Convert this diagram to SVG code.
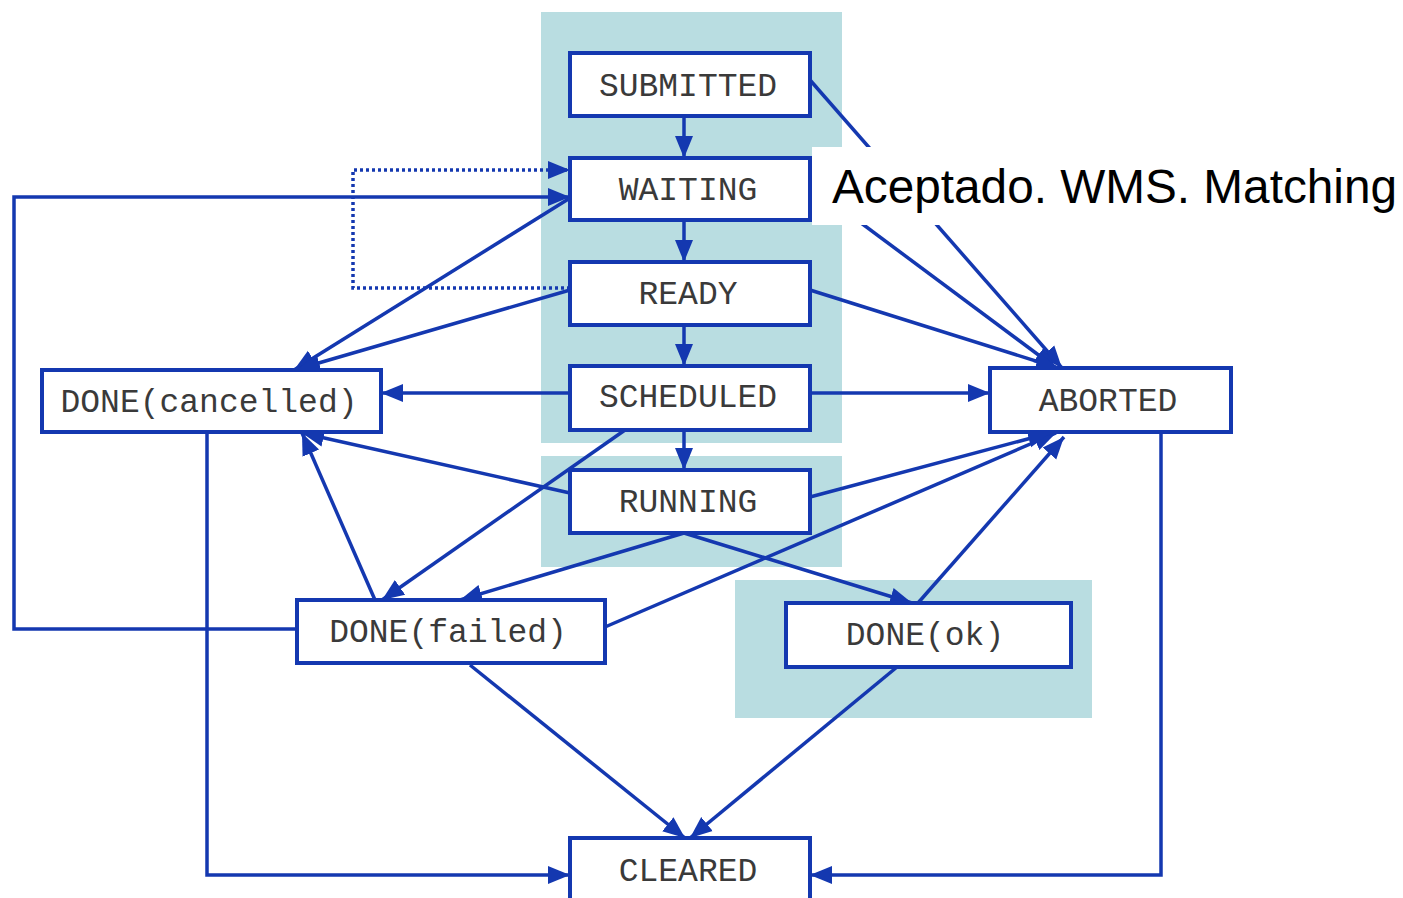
<svg xmlns="http://www.w3.org/2000/svg" width="1403" height="898" viewBox="0 0 1403 898">
<style>
.bg{fill:#b9dde1}
.box{fill:#fff;stroke:#1438b0;stroke-width:4}
.lbl{font-family:"Liberation Mono","DejaVu Sans Mono",monospace;font-size:33px;fill:#3a3a3a;text-anchor:middle}
.c{fill:none;stroke:#1438b0;stroke-width:3.5}
.d{stroke-dasharray:3 3}
</style>
<defs>
<marker id="ah" viewBox="0 0 22 20" refX="22" refY="10" markerWidth="22" markerHeight="20" markerUnits="userSpaceOnUse" orient="auto">
<path d="M0,1 L22,10 L0,19 z" fill="#1438b0"/>
</marker>
</defs>
<rect width="1403" height="898" fill="#fff"/>
<g id="backgrounds">
<rect class="bg" x="541" y="12" width="301" height="431"/>
<rect class="bg" x="541" y="456" width="301" height="111"/>
<rect class="bg" x="735" y="580" width="357" height="138"/>
</g>
<g id="connectors">
<path class="c" d="M684,116 V158" marker-end="url(#ah)"/>
<path class="c" d="M684,220 V262" marker-end="url(#ah)"/>
<path class="c" d="M684,325 V366" marker-end="url(#ah)"/>
<path class="c" d="M684,430 V470" marker-end="url(#ah)"/>
<path class="c d" d="M570,288 H353 V170 H570" marker-end="url(#ah)"/>
<path class="c" d="M297,629 H14 V197 H570" marker-end="url(#ah)"/>
<path class="c" d="M570,198 L294,370" marker-end="url(#ah)"/>
<path class="c" d="M570,290 L298,369" marker-end="url(#ah)"/>
<path class="c" d="M570,393 H381" marker-end="url(#ah)"/>
<path class="c" d="M570,493 L302,433" marker-end="url(#ah)"/>
<path class="c" d="M375,600 L302,433" marker-end="url(#ah)"/>
<path class="c" d="M625,430 L382,600" marker-end="url(#ah)"/>
<path class="c" d="M684,533 L460,600" marker-end="url(#ah)"/>
<path class="c" d="M684,533 L912,603" marker-end="url(#ah)"/>
<path class="c" d="M605,627 L1056,433" marker-end="url(#ah)"/>
<path class="c" d="M810,497 L1050,433" marker-end="url(#ah)"/>
<path class="c" d="M918,603 L1064,437" marker-end="url(#ah)"/>
<path class="c" d="M810,80 L1062,368" marker-end="url(#ah)"/>
<path class="c" d="M810,185 L1056,368" marker-end="url(#ah)"/>
<path class="c" d="M810,290 L1058,368" marker-end="url(#ah)"/>
<path class="c" d="M810,393 H990" marker-end="url(#ah)"/>
<path class="c" d="M207,432 V875 H570" marker-end="url(#ah)"/>
<path class="c" d="M1161,432 V875 H810" marker-end="url(#ah)"/>
<path class="c" d="M470,665 L685,838" marker-end="url(#ah)"/>
<path class="c" d="M897,667 L690,838" marker-end="url(#ah)"/>
</g>
<g id="submitted"><rect class="box" x="570" y="53" width="240" height="63"/><text class="lbl" x="688" y="96">SUBMITTED</text></g>
<g id="waiting"><rect class="box" x="570" y="158" width="240" height="62"/><text class="lbl" x="688" y="200">WAITING</text></g>
<g id="ready"><rect class="box" x="570" y="262" width="240" height="63"/><text class="lbl" x="688" y="304">READY</text></g>
<g id="scheduled"><rect class="box" x="570" y="366" width="240" height="64"/><text class="lbl" x="688" y="407">SCHEDULED</text></g>
<g id="running"><rect class="box" x="570" y="470" width="240" height="63"/><text class="lbl" x="688" y="512">RUNNING</text></g>
<g id="done-cancelled"><rect class="box" x="42" y="370" width="339" height="62"/><text class="lbl" x="209" y="412">DONE(cancelled)</text></g>
<g id="aborted"><rect class="box" x="990" y="368" width="241" height="64"/><text class="lbl" x="1108" y="411">ABORTED</text></g>
<g id="done-failed"><rect class="box" x="297" y="600" width="308" height="63"/><text class="lbl" x="448" y="642">DONE(failed)</text></g>
<g id="done-ok"><rect class="box" x="786" y="603" width="285" height="64"/><text class="lbl" x="925" y="645">DONE(ok)</text></g>
<g id="cleared"><rect class="box" x="570" y="838" width="240" height="64"/><text class="lbl" x="688" y="881">CLEARED</text></g>
<g id="note">
<rect x="812" y="147" width="591" height="78" fill="#fff"/>
<text x="832" y="203" font-family="Liberation Sans,Arial,sans-serif" font-size="48" textLength="565" lengthAdjust="spacingAndGlyphs" fill="#000">Aceptado. WMS. Matching</text>
</g>
</svg>
